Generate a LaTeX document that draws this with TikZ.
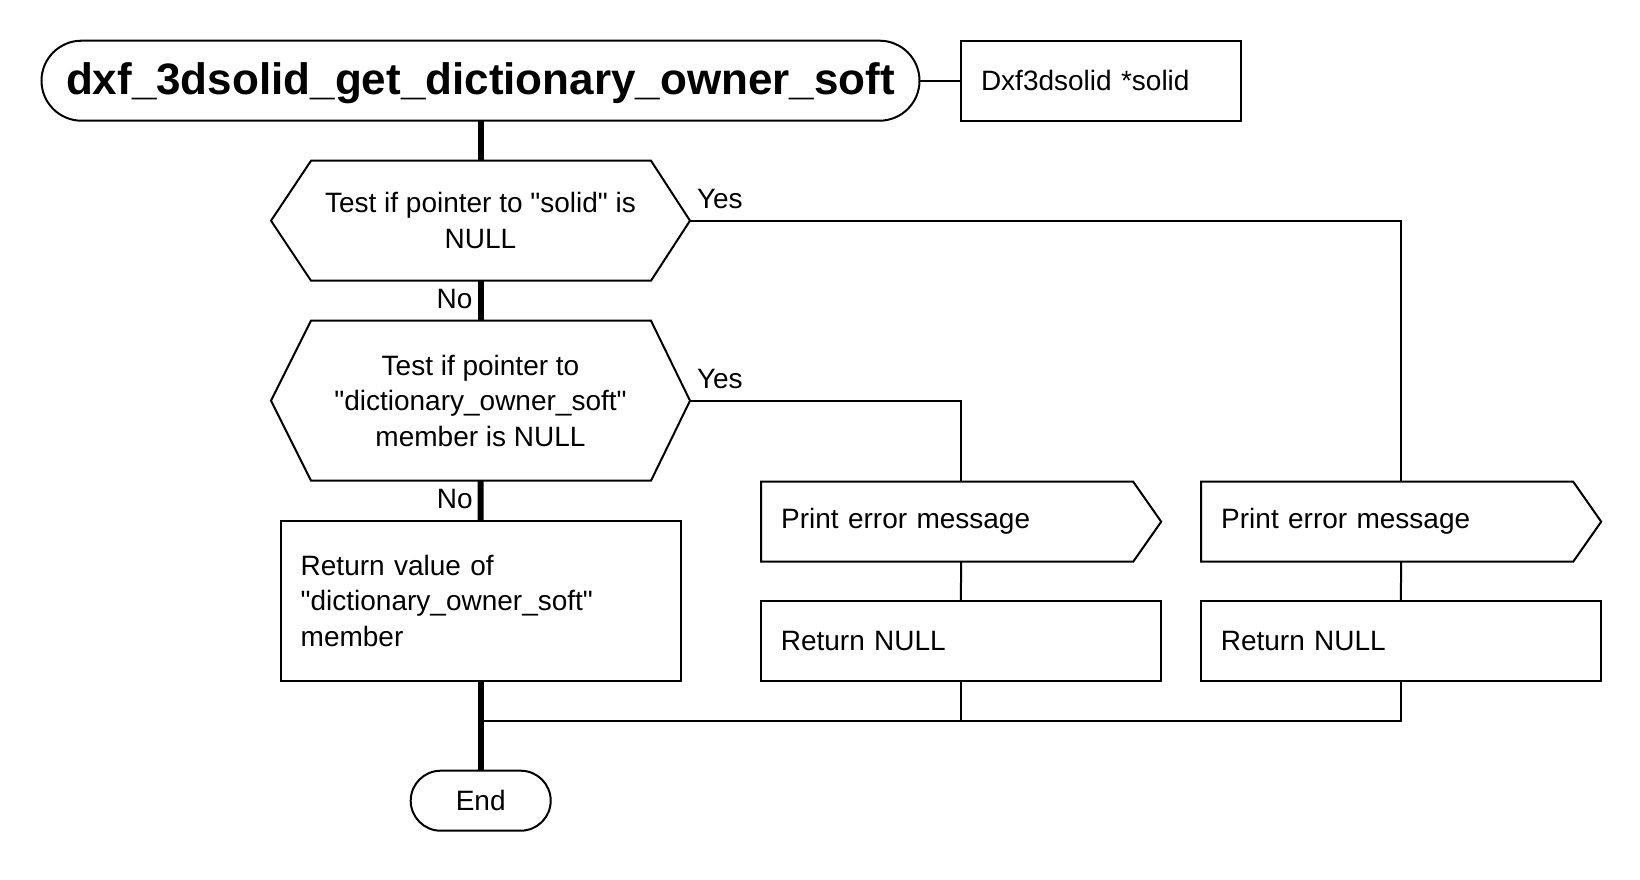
\documentclass[tikz,border=0pt]{standalone}
\usepackage{fontspec}
\setmainfont{Liberation Sans}[Ligatures=TeXOff]
\usetikzlibrary{calc}
\tikzset{
  txt/.style={font=\fontsize{28}{35.5}\selectfont},
  box/.style={txt, draw, line width=2pt, outer sep=0pt, inner sep=0pt},
  leftbox/.style={box, text width=#1, align=left, inner xsep=20pt},
  titlebox/.style={draw, line width=2pt, outer sep=0pt, inner sep=0pt, rounded corners=40pt,
     minimum width=878pt, minimum height=80pt, font=\bfseries\fontsize{44}{50}\selectfont},
  hexnode/.style={txt, outer sep=0pt, inner sep=0pt, minimum width=419pt, align=center},
  prtnode/.style={txt, outer sep=0pt, inner sep=0pt, inner xsep=20pt, minimum width=400pt,
     minimum height=80pt, text width=360pt, align=left},
  outline/.style={line width=2pt, line join=miter},
  endnode/.style={box, rounded corners=30pt, minimum width=140pt, minimum height=60pt},
  thinc/.style={line width=2pt},
  thickc/.style={line width=6pt},
  nolbl/.style={txt, inner sep=0pt, anchor=east, xshift=-5pt, yshift=1.5pt},
  yeslbl/.style={txt, inner sep=0pt, anchor=base west, xshift=6pt, yshift=12pt},
}
\begin{document}
\begin{tikzpicture}[x=1pt,y=-1pt]
\useasboundingbox (0,0) rectangle (1640,880);

\node[titlebox] (title) at (480.5,80.7) {\raisebox{-3pt}[\height][\depth]{dxf\_3dsolid\_get\_dictionary\_owner\_soft}};
\node[leftbox=240pt, minimum width=280pt, minimum height=80pt] (par) at (1101,80.7) {Dxf3dsolid *solid};

\node[hexnode, minimum height=120pt] (d1) at (480.5,220.7) {Test if pointer to "solid" is\\NULL};
\draw[outline] ([xshift=40pt]d1.north west) -- ([xshift=-39pt]d1.north east) -- (d1.east)
   -- ([xshift=-39pt]d1.south east) -- ([xshift=40pt]d1.south west) -- (d1.west) -- cycle;

\node[hexnode, minimum height=160pt] (d2) at (480.5,400.7) {Test if pointer to\\"dictionary\_owner\_soft"\\member is NULL};
\draw[outline] ([xshift=40pt]d2.north west) -- ([xshift=-39pt]d2.north east) -- (d2.east)
   -- ([xshift=-39pt]d2.south east) -- ([xshift=40pt]d2.south west) -- (d2.west) -- cycle;

\node[leftbox=360pt, minimum width=400pt, minimum height=160pt] (rv) at (480.7,600.7)
   {Return value of\\"dictionary\_owner\_soft"\\member};

\node[prtnode] (p1) at (961.2,521.7) {Print error message};
\draw[outline] (p1.north west) -- ([xshift=-28pt]p1.north east) -- (p1.east)
   -- ([xshift=-28pt]p1.south east) -- (p1.south west) -- cycle;
\node[prtnode] (p2) at (1401.2,521.7) {Print error message};
\draw[outline] (p2.north west) -- ([xshift=-28pt]p2.north east) -- (p2.east)
   -- ([xshift=-28pt]p2.south east) -- (p2.south west) -- cycle;

\node[leftbox=360pt, minimum width=400pt, minimum height=80pt] (r1) at (960.8,640.7) {Return NULL};
\node[leftbox=360pt, minimum width=400pt, minimum height=80pt] (r2) at (1400.8,640.7) {Return NULL};

\node[endnode] (end) at (480.7,800.7) {End};

\coordinate (merge) at (480.7,720.7);

\draw[thinc] (title.east) -- (par.west);
\draw[thickc] (title.south) -- (d1.north);
\draw[thickc] (d1.south) -- node[nolbl] {No} (d2.north);
\draw[thickc] (d2.south) -- node[nolbl] {No} (rv.north);
\draw[thickc] (rv.south) -- (end.north);
\draw[thinc] (d1.east) node[yeslbl] {Yes} -| (p2.north);
\draw[thinc] (d2.east) node[yeslbl] {Yes} -| (p1.north);
\draw[thinc] (p1.south) -- (r1.north);
\draw[thinc] (p2.south) -- (r2.north);
\draw[thinc] (r1.south) |- (merge);
\draw[thinc] (r2.south) |- (merge);
\end{tikzpicture}
\end{document}
